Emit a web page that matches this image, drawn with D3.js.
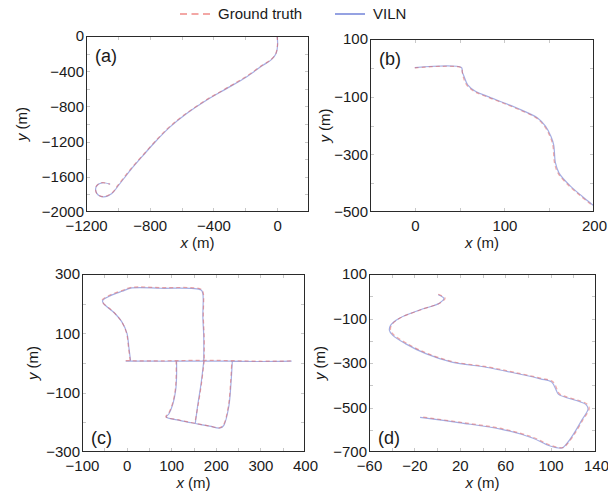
<!DOCTYPE html>
<html>
<head>
<meta charset="utf-8">
<script src="https://cdn.jsdelivr.net/npm/d3@7"></script>
<style>
  body { margin: 0; background: #fff; }
  text { font-family: "Liberation Sans", Arial, sans-serif; fill: #1a1a1a; }
</style>
</head>
<body>
<div id="chart"></div>
<script>
// chart size
const WIDTH = 608;
const HEIGHT = 495;

// legend entries
const legendLabels = ["Ground truth", "VILN"];

// (a) trajectory, metres
const aTruth = [[0,0],[2,-100],[-8,-197],[-40,-270],[-92,-330],[-196,-462],[-321,-595],[-446,-727],[-571,-879],[-675,-1030],[-758,-1182],[-842,-1352],[-925,-1523],[-998,-1693],[-1040,-1788],[-1092,-1826],[-1133,-1788],[-1138,-1712],[-1102,-1667],[-1050,-1682]];
const aViln = [[0,0],[3,-102],[-6,-195],[-38,-272],[-90,-333],[-193,-465],[-318,-598],[-444,-730],[-568,-881],[-672,-1033],[-756,-1185],[-840,-1354],[-922,-1526],[-995,-1696],[-1038,-1790],[-1090,-1829],[-1131,-1791],[-1136,-1714],[-1100,-1669],[-1048,-1685]];
const aXTicks = [-1200, -800, -400, 0];
const aYTicks = [0, -400, -800, -1200, -1600, -2000];

// (b)
const bTruth = [[0,0],[52,0],[53,-15],[54,-31],[58,-60],[67,-83],[80,-100],[99,-123],[117,-146],[136,-175],[145,-204],[151,-239],[154,-268],[156,-331],[160,-366],[173,-412],[186,-447],[195,-470],[200,-482]];
const bViln = [[0,1],[52,1],[53,-14],[55,-30],[59,-59],[68,-82],[81,-99],[100,-122],[118,-145],[137,-174],[146,-203],[152,-238],[155,-267],[157,-330],[161,-365],[174,-411],[187,-446],[196,-469],[201,-481]];
const bXTicks = [0, 100, 200];
const bYTicks = [100, -100, -300, -500];

// (c) null marks a break between pieces of the route
const cTruth = [[-2,8],[60,7],[111,8],[174,9],[236,8],[300,6],[370,7],null,
  [8,8],[4,55],[0,100],[-11,139],[-30,173],[-52,201],[-55,212],[-37,229],[-11,244],[11,255],[75,254],[168,248],[172,235],[172,156],[174,89],[174,8],null,
  [111,8],[111,-46],[109,-91],[103,-136],[94,-170],[88,-181],[120,-193],[153,-203],[185,-212],[209,-218],[217,-209],[228,-147],[233,-68],[236,8],null,
  [174,8],[168,-68],[161,-136],[153,-203]];
const cViln = [[-2,6],[60,6],[111,6],[174,7],[236,6],[300,5],[370,6],null,
  [9,6],[5,54],[1,99],[-10,137],[-29,171],[-51,199],[-54,210],[-36,227],[-10,242],[12,253],[76,252],[167,246],[171,233],[171,155],[173,88],[173,6],null,
  [112,6],[112,-47],[110,-92],[104,-137],[95,-171],[89,-182],[121,-194],[154,-204],[186,-213],[210,-219],[218,-210],[229,-148],[234,-69],[237,6],null,
  [173,6],[167,-69],[160,-137],[154,-204]];
const cXTicks = [-100, 0, 100, 200, 300, 400];
const cYTicks = [300, 100, -100, -300];

// (d)
const dTruth = [[1,9],[7,-9],[3,-29],[-15,-62],[-33,-99],[-40,-129],[-41,-152],[-38,-174],[-27,-211],[-9,-256],[14,-294],[44,-317],[70,-344],[92,-369],[102,-384],[106,-421],[108,-439],[132,-484],[134,-504],[128,-560],[121,-620],[115,-662],[111,-680],[100,-670],[85,-635],[58,-596],[20,-566],[-14,-542]];
const dViln = [[1,7],[6,-10],[2,-31],[-16,-63],[-34,-101],[-41,-131],[-42,-153],[-39,-176],[-28,-213],[-10,-258],[13,-296],[43,-319],[69,-346],[91,-371],[101,-386],[105,-423],[107,-441],[131,-486],[133,-506],[127,-561],[120,-621],[114,-664],[110,-682],[99,-672],[84,-637],[57,-598],[19,-568],[-15,-544]];
const dXTicks = [-60, -20, 20, 60, 100, 140];
const dYTicks = [100, -100, -300, -500, -700];

// panel layout (frame box in pixels)
const panels = [
  { tag: "(a)", truth: aTruth, viln: aViln, xd: [-1200, 200], yd: [-2000, 0], xt: aXTicks, yt: aYTicks, xs: 200, ys: 200,
    left: 86, right: 309, top: 36, bottom: 212, ylx: 22, tagTop: true },
  { tag: "(b)", truth: bTruth, viln: bViln, xd: [-50, 200], yd: [-500, 100], xt: bXTicks, yt: bYTicks, xs: 50, ys: 100,
    left: 370, right: 594, top: 39, bottom: 212, ylx: 325, tagTop: true },
  { tag: "(c)", truth: cTruth, viln: cViln, xd: [-100, 400], yd: [-300, 300], xt: cXTicks, yt: cYTicks, xs: 50, ys: 100,
    left: 82, right: 305, top: 274, bottom: 452, ylx: 33, tagTop: false },
  { tag: "(d)", truth: dTruth, viln: dViln, xd: [-60, 140], yd: [-700, 100], xt: dXTicks, yt: dYTicks, xs: 20, ys: 100,
    left: 369, right: 596, top: 274, bottom: 452, ylx: 320, tagTop: false }
];

const svg = d3.select("#chart").append("svg")
  .attr("width", WIDTH)
  .attr("height", HEIGHT);

const fmt = d3.format("");

panels.forEach((p, i) => {
  const x = d3.scaleLinear().domain(p.xd).range([p.left, p.right]);
  const y = d3.scaleLinear().domain(p.yd).range([p.bottom, p.top]);
  const g = svg.append("g");

  // small inward ticks on all four sides
  const minorX = d3.range(p.xd[0] + p.xs, p.xd[1], p.xs);
  const minorY = d3.range(p.yd[0] + p.ys, p.yd[1], p.ys);
  const mt = g.append("g").attr("stroke", "#c8c8c8").attr("stroke-width", 1);
  minorX.forEach(v => {
    const px = Math.round(x(v)) + 0.5;
    mt.append("line").attr("x1", px).attr("x2", px).attr("y1", p.bottom).attr("y2", p.bottom - 4);
    mt.append("line").attr("x1", px).attr("x2", px).attr("y1", p.top).attr("y2", p.top + 4);
  });
  minorY.forEach(v => {
    const py = Math.round(y(v)) + 0.5;
    mt.append("line").attr("x1", p.left).attr("x2", p.left + 4).attr("y1", py).attr("y2", py);
    mt.append("line").attr("x1", p.right).attr("x2", p.right - 4).attr("y1", py).attr("y2", py);
  });

  // clip region
  g.append("clipPath").attr("id", "clip" + i)
    .append("rect").attr("x", p.left).attr("y", p.top)
    .attr("width", p.right - p.left).attr("height", p.bottom - p.top);

  const line = d3.line()
    .defined(d => d !== null)
    .x(d => x(d[0]))
    .y(d => y(d[1]))
    .curve(d3.curveCatmullRom.alpha(0.5));

  const lines = g.append("g").attr("clip-path", `url(#clip${i})`);
  lines.append("path")
    .attr("d", line(p.viln))
    .attr("fill", "none")
    .attr("stroke", "#5b6ccc")
    .attr("stroke-opacity", 0.55)
    .attr("stroke-width", 1.2);
  lines.append("path")
    .attr("d", line(p.truth))
    .attr("fill", "none")
    .attr("stroke", "#e35a56")
    .attr("stroke-opacity", 0.5)
    .attr("stroke-width", 1.2)
    .attr("stroke-dasharray", "4,3");

  // frame
  g.append("rect")
    .attr("x", p.left + 0.5).attr("y", p.top + 0.5)
    .attr("width", p.right - p.left - 1).attr("height", p.bottom - p.top - 1)
    .attr("fill", "none")
    .attr("stroke", "#2a2a2a")
    .attr("stroke-width", 1);

  // tick labels
  const xAxis = g.append("g")
    .attr("transform", `translate(0,${p.bottom})`)
    .call(d3.axisBottom(x).tickValues(p.xt).tickSize(0).tickPadding(8).tickFormat(fmt));
  const yAxis = g.append("g")
    .attr("transform", `translate(${p.left},0)`)
    .call(d3.axisLeft(y).tickValues(p.yt).tickSize(0).tickPadding(2).tickFormat(fmt));
  [xAxis, yAxis].forEach(a => {
    a.select(".domain").remove();
    a.selectAll("text").attr("font-size", 15).attr("font-family", null).attr("fill", "#1a1a1a");
  });

  // axis titles
  const xt = g.append("text")
    .attr("x", (p.left + p.right) / 2)
    .attr("y", p.bottom + 36)
    .attr("text-anchor", "middle")
    .attr("font-size", 15);
  xt.append("tspan").attr("font-style", "italic").text("x");
  xt.append("tspan").text(" (m)");

  const yt = g.append("text")
    .attr("transform", `translate(${p.ylx},${(p.top + p.bottom) / 2}) rotate(-90)`)
    .attr("text-anchor", "middle")
    .attr("dy", "0.35em")
    .attr("font-size", 15);
  yt.append("tspan").attr("font-style", "italic").text("y");
  yt.append("tspan").text(" (m)");

  // panel tag
  g.append("text")
    .attr("x", p.left + 9)
    .attr("y", p.tagTop ? p.top + 26 : p.bottom - 8)
    .attr("font-size", 18)
    .text(p.tag);
});

// legend
const legend = svg.append("g");
const legendColors = ["#e8504c", "#4f64cf"];
const legendX = [180, 335];
legendLabels.forEach((name, i) => {
  legend.append("line")
    .attr("x1", legendX[i]).attr("x2", legendX[i] + 30)
    .attr("y1", 14).attr("y2", 14)
    .attr("stroke", legendColors[i])
    .attr("stroke-width", 1.2)
    .attr("stroke-dasharray", i === 0 ? "7,4.5" : null);
  legend.append("text")
    .attr("x", legendX[i] + 38)
    .attr("y", 19)
    .attr("font-size", 15)
    .text(name);
});
</script>
</body>
</html>
